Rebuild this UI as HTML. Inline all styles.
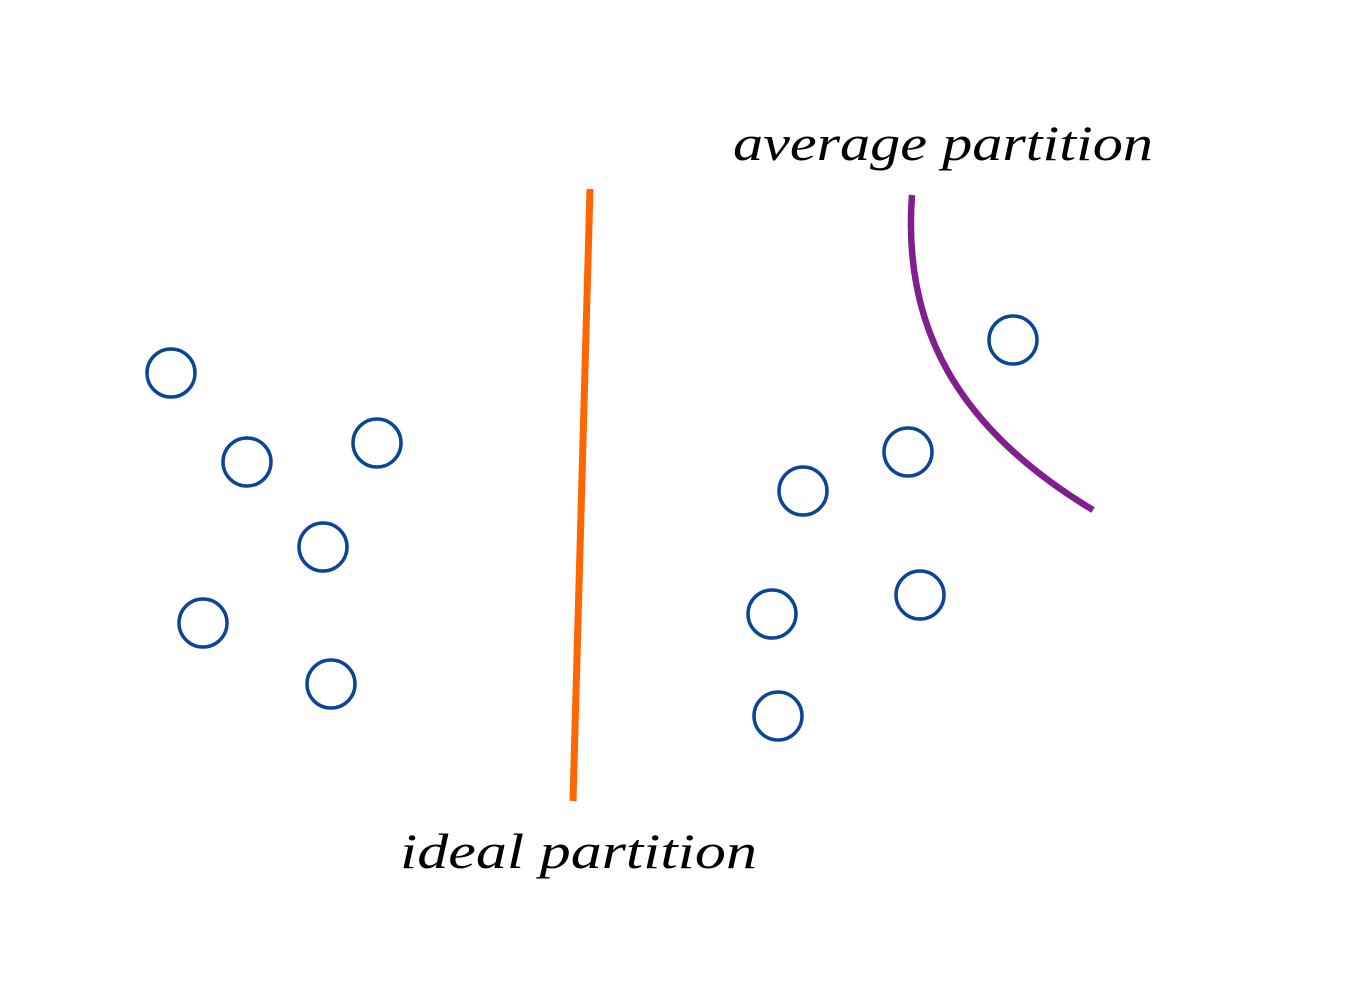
<!DOCTYPE html>
<html>
<head>
<meta charset="utf-8">
<style>
  html, body { margin: 0; padding: 0; background: #fff; }
  svg { display: block; }
  .lbl { font-family: "Liberation Serif", "DejaVu Serif", serif; font-style: italic; font-size: 50px; fill: #000; }
</style>
</head>
<body>
<svg id="chart" width="1370" height="1000" viewBox="0 0 1370 1000" xmlns="http://www.w3.org/2000/svg">
  <rect width="1370" height="1000" fill="#fff"/>
  <line x1="590" y1="189" x2="573" y2="801" stroke="#ff6600" stroke-width="7"/>
  <path d="M912,195 C902,330 960,430 1093,510" fill="none" stroke="#801f8e" stroke-width="6.5"/>
  <text class="lbl" x="733" y="160" textLength="420" lengthAdjust="spacingAndGlyphs">average partition</text>
  <text class="lbl" x="400" y="868" textLength="357" lengthAdjust="spacingAndGlyphs">ideal partition</text>
  <g id="points"></g>
</svg>
<script>
const pointX = [171, 247, 377, 323, 203, 331, 1013, 908, 803, 772, 920, 778];
const pointY = [373, 462, 443, 547, 623, 684, 340, 452, 491, 614, 595, 716];
const g = document.getElementById('points');
for (let i = 0; i < pointX.length; i++) {
  const c = document.createElementNS('http://www.w3.org/2000/svg', 'circle');
  c.setAttribute('cx', pointX[i]);
  c.setAttribute('cy', pointY[i]);
  c.setAttribute('r', 24);
  c.setAttribute('fill', 'none');
  c.setAttribute('stroke', '#0b4596');
  c.setAttribute('stroke-width', 3.5);
  
  
  g.appendChild(c);
}
</script>
</body>
</html>
